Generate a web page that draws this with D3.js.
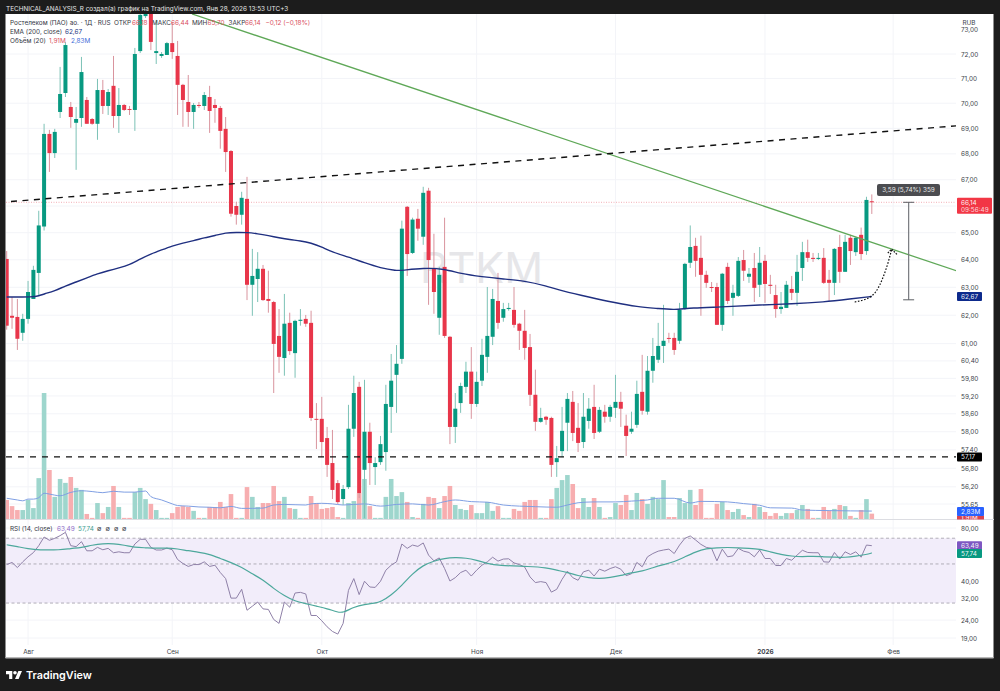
<!DOCTYPE html>
<html>
<head>
<meta charset="utf-8">
<script src="https://cdn.jsdelivr.net/npm/d3@7"></script>
<style>
  html, body { margin: 0; background: #1c1c1c; }
  svg { display: block; }
  text { font-family: Inter, "Noto Sans", sans-serif; }
  .axis text { font-size: 6.4px; fill: #3c3f4a; font-family: Inter, "Noto Sans", sans-serif; }
</style>
</head>
<body>
<svg id="chart" width="1000" height="691"></svg>
<script>
// daily bars
let opens = [
64.03,61.98,61.94,61.38,61.87,62.58,63.52,65.23,68.78,68.03,
69.65,70.41,69.85,69.22,69.41,70.13,69.37,69.18,70.53,69.89,
70.70,69.49,69.93,69.77,69.73,72.12,73.58,73.92,72.04,71.92,
71.96,72.45,71.92,70.74,70.05,69.65,69.93,69.89,70.25,69.93,
69.81,68.98,68.11,66.00,65.67,66.27,63.09,63.30,63.67,62.58,
62.47,61.27,60.50,61.73,60.67,61.80,61.87,61.73,58.43,58.43,
57.79,56.97,56.32,55.81,56.19,58.10,59.51,56.75,58.00,56.84,
57.00,57.33,58.83,59.92,60.47,65.97,64.25,65.52,64.85,66.58,
63.70,61.91,63.74,61.24,58.16,58.96,59.51,60.03,58.93,59.72,
60.54,61.24,62.51,61.91,62.22,62.19,61.70,61.45,60.88,59.24,
58.33,58.50,58.46,57.00,57.36,58.30,59.00,58.13,57.66,58.36,
58.83,58.00,58.67,58.50,58.80,59.00,58.20,58.00,58.23,59.34,
58.67,60.06,60.44,60.92,61.20,61.20,61.10,62.22,63.89,64.51,
64.07,63.45,63.01,63.01,61.66,63.74,62.62,62.69,63.99,63.38,
63.70,63.09,63.96,63.09,62.72,62.22,62.26,62.94,62.80,63.70,
64.28,64.07,64.03,64.07,63.27,63.16,64.47,63.56,64.81,64.28,
64.92,64.32,66.18];
let highs = [
64.32,62.65,62.58,62.05,63.23,63.78,65.82,69.18,68.94,68.98,
71.47,72.50,70.05,69.85,71.88,70.25,69.41,70.98,70.94,70.57,
71.92,70.61,69.97,69.89,72.25,73.72,74.09,74.09,73.42,72.08,
72.50,73.33,72.54,70.78,71.14,70.01,70.05,70.45,70.70,70.17,
69.89,69.45,68.15,66.16,66.54,67.11,64.40,64.28,63.81,63.60,
62.51,62.22,62.76,62.09,61.84,62.22,62.01,62.16,58.96,59.17,
58.16,58.06,56.42,56.26,58.90,59.89,59.68,59.75,58.30,57.16,
57.86,59.58,60.64,60.95,65.45,66.00,65.56,65.89,66.73,66.69,
64.96,63.74,65.56,61.27,59.30,59.65,60.37,60.88,60.03,61.17,
63.01,62.94,63.52,62.44,62.44,63.01,61.73,62.19,61.34,60.10,
58.80,58.53,58.50,57.53,58.83,59.30,59.37,58.96,59.30,59.13,
59.58,58.83,58.90,58.90,59.92,59.34,58.57,58.67,59.72,60.61,
60.57,61.20,61.73,62.37,61.38,61.38,62.44,63.89,65.27,64.81,
64.89,63.60,63.19,63.16,63.52,63.89,63.09,64.10,64.36,63.70,
64.25,64.47,64.18,63.45,63.09,62.83,63.23,63.41,64.18,64.66,
64.74,64.25,64.25,64.43,63.63,64.43,64.92,64.92,64.92,64.85,
65.19,66.35,66.44];
let lows = [
61.49,61.52,60.78,61.10,61.70,62.58,62.72,65.08,67.30,67.84,
69.41,70.25,69.02,67.38,69.06,69.18,69.14,68.55,69.57,69.53,
69.02,68.82,69.69,69.53,68.90,72.04,73.50,72.16,71.59,71.84,
71.96,71.80,69.53,69.06,69.06,68.98,69.81,69.73,68.82,69.22,
68.20,67.30,65.60,65.30,65.30,62.54,61.98,62.47,62.51,62.09,
59.30,59.99,59.89,60.61,59.82,61.63,61.59,58.36,57.43,57.16,
56.52,55.81,55.65,55.62,56.13,57.83,55.84,55.20,56.26,56.26,
56.91,56.72,57.96,58.63,60.30,63.41,64.21,64.70,64.55,62.37,
62.05,61.31,61.20,57.59,57.63,58.63,59.30,58.43,58.83,59.54,
59.99,60.95,61.52,61.77,62.16,61.56,60.78,60.44,58.86,58.03,
58.30,58.23,56.52,56.52,57.16,57.36,57.69,57.33,57.46,58.10,
57.76,57.96,58.30,58.33,58.46,58.16,57.20,57.93,58.13,58.57,
58.57,59.65,60.33,60.33,61.03,60.61,60.99,62.19,63.70,63.38,
61.98,62.98,62.83,61.66,61.45,62.40,61.98,62.65,63.23,63.16,
62.47,62.65,62.44,62.76,61.91,62.05,62.26,62.54,62.33,63.23,
63.92,63.92,63.99,63.12,62.51,62.72,63.16,63.56,63.81,64.14,
63.99,64.18,65.70];
let closes = [
61.63,61.91,61.17,61.87,62.83,63.63,65.27,68.78,68.03,68.86,
70.37,72.37,69.45,69.37,71.26,69.18,69.18,70.53,69.89,70.45,
69.49,69.93,69.73,69.73,72.00,73.63,73.92,72.50,72.12,72.00,
72.45,72.08,70.74,70.13,69.65,69.93,69.89,70.33,69.69,69.81,
68.90,68.07,65.71,65.67,66.31,63.09,63.41,63.67,62.54,62.51,
60.99,60.54,61.70,60.74,61.80,61.84,61.70,58.46,58.40,57.66,
56.91,56.10,55.71,56.13,58.10,59.30,56.00,58.00,56.97,56.97,
57.59,58.93,59.72,60.30,65.15,64.21,65.49,65.15,66.50,63.99,
62.83,63.45,61.27,58.16,58.77,59.54,60.03,58.93,59.68,60.61,
61.27,62.58,61.73,62.22,62.26,61.66,61.45,60.85,59.24,58.33,
58.46,58.40,56.91,57.13,58.03,59.10,57.96,57.63,58.50,58.77,
57.96,58.73,58.50,58.83,59.00,58.77,57.86,58.10,59.27,58.70,
60.06,60.57,60.92,61.10,61.17,60.78,62.19,63.85,64.47,63.96,
63.45,63.16,62.98,61.66,63.49,62.51,62.80,63.96,63.60,63.49,
62.98,63.89,63.12,63.05,62.22,62.30,63.09,62.80,63.56,64.28,
64.07,64.03,64.07,63.16,63.16,64.40,63.56,64.66,64.32,64.81,
64.21,66.23,66.14];
// volume in millions
let volumes = [
6.8,4.6,3.2,3.2,6.8,3.9,14.6,45,17.5,7.9,
14.3,12.9,15,11.1,10.4,1.8,.4,5.7,2.1,4.3,
11.8,4.3,.4,.4,9.6,11.1,7.1,5.4,3.2,.4,
.4,2.1,4.3,4.6,4.3,2.9,.4,.4,4.3,4.3,
6.1,4.3,8.9,.4,.4,11.4,7.9,4.3,5.7,5.7,
11.8,6.4,7.9,3.9,3.6,.4,.4,8.2,5.7,3.6,
3.9,4.3,.7,.4,5.7,6.4,9.3,14.3,4.6,.4,
.4,7.9,14.3,8.2,9.6,6.1,.7,.4,5.4,7.9,
7.5,3.9,8.2,11.8,5,3.6,3.2,5,2.1,2.1,
6.1,2.9,4.6,.4,.4,3.6,2.9,6.1,6.8,6.8,
.4,.4,7.1,11.1,13.9,15.7,12.5,3.9,7.5,4.3,
7.5,4.3,.4,.7,5.7,5,8.6,3.2,9.3,7.1,
5.4,7.9,7.1,13.9,.7,.7,7.5,5.7,10.4,5,
10.7,.4,.4,5.4,6.1,3.2,2.5,3.6,1.4,.7,
5.4,4.3,2.5,1.1,2.1,1.1,2.1,2.1,3.2,5,
3.6,.4,.4,4.3,2.9,3.6,5,4.6,1.1,.4,
3.2,7.1,1.91];
let volMaBars = [0,2,3,4,5,6,7,8,10,12,14,16,18,20,22,24,26,27,29,31,32,34,36,38,40,42,44,46,48,50,52,54,56,57,59,61,63,67,70,73,76,79,82,84,87,90,93,96,99,103,105,107,110,114,117,120,122,125,128,130,135,138,141,143,147,149,154,158,162];
let volMa = [7.4,6.8,6.5,7.1,7.1,7.6,9.2,8.9,8.3,9.5,10.1,9.8,9.4,9.9,9.6,9.6,10,8,6.8,5.4,4.8,4.6,4.3,4.2,4,4.5,3.8,3.8,3.9,5,5.2,5.1,5,5.4,5.6,5.4,5,5.4,4.6,5.2,5.4,5,6.2,6.8,6.2,6,5,4.6,4.4,4.2,5,5.8,6.1,6.1,6.4,6.8,7.4,7.4,5.7,6.3,6.1,5.5,4.9,4,3.9,3.2,3,2.9,2.83];
let emaBars = [0,5,6,7,9,11,13,15,17,19,21,23,25,27,29,31,33,35,37,39,41,43,45,47,49,51,53,55,57,59,61,64,67,70,73,74,78,82,85,89,93,97,101,104,109,114,118,122,125,128,135,141,147,153,158,162];
let ema = [62.65,62.65,62.69,62.76,62.87,63.05,63.19,63.34,63.49,63.60,63.70,63.81,64.03,64.21,64.36,64.51,64.62,64.70,64.81,64.89,65.00,65.01,65.01,64.96,64.89,64.81,64.74,64.70,64.62,64.47,64.28,64.10,63.89,63.70,63.60,63.61,63.70,63.67,63.49,63.38,63.30,63.23,63.05,62.87,62.65,62.44,62.30,62.24,62.19,62.26,62.30,62.37,62.40,62.47,62.58,62.67];
let rsi = [
49.6,51.0,47.7,51.4,54.9,58.0,63.5,71.1,68.1,69.9,
72.4,75.6,63.5,62.7,66.9,59.4,59.4,62.1,60.2,61.3,
57.9,58.6,57.9,57.9,64.9,69.0,69.0,62.1,60.0,60.0,
61.5,60.2,53.0,50.3,48.4,49.6,49.6,51.4,48.4,49.2,
44.7,41.3,32.0,32.0,35.9,27.3,28.8,30.4,27.8,27.6,
24.2,23.0,30.4,28.4,34.2,34.5,33.8,25.5,25.5,23.8,
22.0,20.7,20.0,23.0,35.4,41.3,33.5,39.9,37.0,36.8,
39.9,46.1,49.2,51.4,64.9,61.3,64.0,62.9,65.8,56.1,
52.1,54.1,47.1,40.0,41.8,44.7,46.1,42.7,46.1,49.2,
51.4,54.6,51.9,53.3,53.5,50.7,49.6,48.0,42.2,39.2,
39.7,39.2,34.6,35.9,40.9,45.5,41.8,40.4,45.1,46.1,
42.7,46.7,45.5,47.1,48.2,46.7,42.9,44.0,51.0,48.2,
54.9,57.3,59.1,60.0,60.7,57.3,64.0,69.9,72.1,68.4,
64.6,62.1,61.3,52.1,60.7,54.9,55.6,61.3,59.1,58.1,
54.9,60.0,53.7,53.7,49.0,49.0,53.7,52.5,56.1,59.8,
58.1,57.9,57.9,51.4,51.2,58.1,53.3,58.6,56.6,58.6,
54.6,64.0,63.49];
let rsiMaBars = [0,2,4,6,10,12,14,16,18,20,22,24,26,28,30,32,34,36,38,40,42,44,46,48,50,52,54,56,58,60,62,63,65,67,69,70,72,74,76,78,80,82,84,86,88,90,92,98,101,103,105,107,109,111,113,115,117,119,121,123,125,127,129,131,133,135,137,139,141,143,145,147,149,151,153,155,157,159,161,162];
let rsiMa = [64.3,62.7,61,60,60,61.3,61.8,64,65.2,65.2,64,62.1,61.8,61.3,61.8,60.9,59.4,58.3,56.8,53.7,51,47.9,43.9,40.7,36.2,33,30.7,29.8,28.8,27.9,26.6,26.4,28.5,29.5,30,30.4,33.2,37.8,44.1,49.2,52,53.9,54.4,54.1,52.5,50.3,49,48.4,47.7,46.1,44.7,42.9,41.7,41.3,41.9,42.9,44.7,45.4,47.7,49.6,51.4,54.9,58.6,61.3,61.8,62.1,61.8,61.3,60.7,58.6,56.6,55.3,55,55.3,54.9,54.6,54.4,55.3,56.6,57.74];

let priceTicks = [73,72,71,70,69,68,67,65,64,63,62,61,60.4,59.8,59.2,58.6,58,57.4,56.8,56.2,55.65];
let rsiTicks = [80,40,32,24,19];
let rsiBands = [70,50,30];
let timeBars = [4,31,59,88,114,142,166];
let timeLabels = ["Авг","Сен","Окт","Ноя","Дек","2026","Фев"];

// drawings on the chart: bar number and price
let downTrendBars = [34.7,177.8], downTrendPrices = [73.67,63.60];
let upperDashBars = [0.8,177.8], upperDashPrices = [66.17,69.10];
let supportPrice = 57.17;
let lastPrice = 66.14, emaLast = 62.67, volMaLast = 2.83, volLast = 1.91;
let rsiLast = 63.49, rsiMaLast = 57.74;
let arrowBars = [158.8,161.7,163.5,164.8,165.7], arrowPrices = [62.47,62.65,63.09,63.74,64.36];
let arrowHeadBars = [165,165.7,166.8], arrowHeadPrices = [64.25,64.39,64.18];
let rulerBar = 168.9, rulerPrices = [66.14,62.55];

let upColor = "#089981", downColor = "#e8364a";
let plotL = 6, plotR = 956, plotT = 14, axisX = 961;
let fontSize = 6.4;

let svg = d3.select("#chart");
let defs = svg.append("defs");
defs.append("clipPath").attr("id","mainClip").append("rect")
    .attr("x",plotL).attr("y",plotT).attr("width",plotR-plotL).attr("height",520-plotT);
defs.append("clipPath").attr("id","rsiClip").append("rect")
    .attr("x",plotL).attr("y",520).attr("width",plotR-plotL).attr("height",125);
defs.append("clipPath").attr("id","volTagClip").append("rect")
    .attr("x",957).attr("y",515.5).attr("width",27).attr("height",4);

let x = d3.scaleLinear().domain([0,162]).range([6.7,871.8]);
let y = d3.scaleLog().domain([55.65,72]).range([504,54]);
let yVol = d3.scaleLinear().domain([0,45]).range([519,393]);
let yRsi = d3.scaleLog().domain([19,80]).range([638,528]);

let bars = d3.range(closes.length);
let isUp = i => closes[i] >= opens[i];
let comma = d => d3.format(".2f")(d).replace(".",",");

// white panel
svg.append("rect").attr("x",plotL-0.5).attr("y",plotT).attr("width",994-plotL).attr("height",658-plotT).attr("fill","#fff");
svg.append("rect").attr("x",plotL-0.5).attr("y",657).attr("width",994-plotL).attr("height",1.5).attr("fill","#b8b8b8");

// grid
let gridColor = "#f3f4f8";
let grid = svg.append("g").attr("stroke",gridColor).attr("stroke-width",1);
grid.selectAll(".h").data(priceTicks.concat([66]).filter(d => d < 73)).enter().append("line")
    .attr("x1",plotL).attr("x2",plotR).attr("y1",d => y(d)).attr("y2",d => y(d));
grid.selectAll(".r").data(rsiTicks).enter().append("line")
    .attr("x1",plotL).attr("x2",plotR).attr("y1",d => yRsi(d)).attr("y2",d => yRsi(d));
grid.selectAll(".v").data(timeBars).enter().append("line")
    .attr("y1",plotT).attr("y2",645).attr("x1",d => x(d)).attr("x2",d => x(d));

// watermark
svg.append("text").attr("x",481.5).attr("y",283).attr("text-anchor","middle")
    .attr("font-size",43).attr("fill","#e6e6e9").text("RTKM");

let main = svg.append("g").attr("clip-path","url(#mainClip)");

// volume
main.selectAll(".vol").data(bars).enter().append("rect")
    .attr("x",i => x(i)-2.3).attr("width",4.6)
    .attr("y",i => yVol(volumes[i])).attr("height",i => yVol(0)-yVol(volumes[i]))
    .attr("fill",i => isUp(i) ? "#9ed6cd" : "#f7aeb0");
let volLine = d3.line().x(d => x(d[0])).y(d => yVol(d[1])).curve(d3.curveMonotoneX);
main.append("path").datum(d3.zip(volMaBars,volMa)).attr("d",volLine)
    .attr("fill","none").attr("stroke","#7f9fe3").attr("stroke-width",1);

// current price
main.append("line").attr("x1",plotL).attr("x2",plotR).attr("y1",y(lastPrice)).attr("y2",y(lastPrice))
    .attr("stroke","#ef9aa3").attr("stroke-width",0.8).attr("stroke-dasharray","1 1.5");

// candles
main.selectAll(".wick").data(bars).enter().append("line")
    .attr("x1",i => x(i)).attr("x2",i => x(i))
    .attr("y1",i => y(highs[i])).attr("y2",i => y(lows[i]))
    .attr("stroke",i => isUp(i) ? "#7cc2b6" : "#d9949e").attr("stroke-width",1);
main.selectAll(".body").data(bars).enter().append("rect")
    .attr("x",i => x(i)-2).attr("width",4)
    .attr("y",i => Math.min(y(opens[i]),y(closes[i])))
    .attr("height",i => Math.max(1,Math.abs(y(opens[i])-y(closes[i]))))
    .attr("fill",i => isUp(i) ? upColor : downColor);

// ema
let emaLine = d3.line().x(d => x(d[0])).y(d => y(d[1])).curve(d3.curveBasis);
main.append("path").datum(d3.zip(emaBars,ema)).attr("d",emaLine)
    .attr("fill","none").attr("stroke","#1f2f80").attr("stroke-width",1.4);

// trend lines
let straight = d3.line().x(d => x(d[0])).y(d => y(d[1]));
main.append("path").datum(d3.zip(downTrendBars,downTrendPrices)).attr("d",straight)
    .attr("fill","none").attr("stroke","#5fa858").attr("stroke-width",1.3);
main.append("path").datum(d3.zip(upperDashBars,upperDashPrices)).attr("d",straight)
    .attr("fill","none").attr("stroke","#111").attr("stroke-width",1.4).attr("stroke-dasharray","6 5.5");
main.append("line").attr("x1",plotL).attr("x2",plotR).attr("y1",y(supportPrice)).attr("y2",y(supportPrice))
    .attr("stroke","#111").attr("stroke-width",1.4).attr("stroke-dasharray","6 6");

// dotted arrow
main.append("path").datum(d3.zip(arrowBars,arrowPrices))
    .attr("d",d3.line().x(d => x(d[0])).y(d => y(d[1])).curve(d3.curveNatural))
    .attr("fill","none").attr("stroke","#111").attr("stroke-width",1.2).attr("stroke-dasharray","1.6 1.6");
main.append("path").datum(d3.zip(arrowHeadBars,arrowHeadPrices)).attr("d",straight)
    .attr("fill","none").attr("stroke","#111").attr("stroke-width",1.2).attr("stroke-dasharray","1.6 1.2");

// price range ruler
main.append("line").attr("x1",x(rulerBar)).attr("x2",x(rulerBar))
    .attr("y1",y(rulerPrices[0])).attr("y2",y(rulerPrices[1])).attr("stroke","#77797e").attr("stroke-width",1.2);
main.selectAll(".cap").data(rulerPrices).enter().append("line")
    .attr("x1",x(rulerBar)-5.5).attr("x2",x(rulerBar)+5.5)
    .attr("y1",d => y(d)).attr("y2",d => y(d)).attr("stroke","#5c5e63").attr("stroke-width",1);
svg.append("rect").attr("x",877).attr("y",184).attr("width",63).attr("height",12).attr("rx",2).attr("fill","#4b4c50");
svg.append("text").attr("x",908.5).attr("y",192.3).attr("text-anchor","middle").attr("font-size",fontSize).attr("fill","#e8e8e8").text("3,59 (5,74%) 359");

// separator between panes
svg.append("line").attr("x1",plotL).attr("x2",994).attr("y1",519.5).attr("y2",519.5).attr("stroke","#dcdde2").attr("stroke-width",1);

// rsi pane
let rsiG = svg.append("g").attr("clip-path","url(#rsiClip)");
rsiG.append("rect").attr("x",plotL).attr("width",plotR-plotL)
    .attr("y",yRsi(rsiBands[0])).attr("height",yRsi(rsiBands[2])-yRsi(rsiBands[0])).attr("fill","#f2edfa");
rsiG.selectAll(".band").data(rsiBands).enter().append("line")
    .attr("x1",plotL).attr("x2",plotR).attr("y1",d => yRsi(d)).attr("y2",d => yRsi(d))
    .attr("stroke","#a9a6b0").attr("stroke-width",0.9).attr("stroke-dasharray","3 2.5");
rsiG.append("path").datum(bars)
    .attr("d",d3.line().x(i => x(i)).y(i => yRsi(rsi[i])))
    .attr("fill","none").attr("stroke","#8f81a8").attr("stroke-width",1);
rsiG.append("path").datum(d3.zip(rsiMaBars,rsiMa))
    .attr("d",d3.line().x(d => x(d[0])).y(d => yRsi(d[1])).curve(d3.curveBasis))
    .attr("fill","none").attr("stroke","#4da89c").attr("stroke-width",1.2);

// axes
let priceAxis = svg.append("g").attr("class","axis").attr("transform",`translate(${axisX},0)`)
    .call(d3.axisRight(y).tickValues(priceTicks).tickSize(0).tickPadding(0).tickFormat(comma));
let rsiAxis = svg.append("g").attr("class","axis").attr("transform",`translate(${axisX},0)`)
    .call(d3.axisRight(yRsi).tickValues(rsiTicks).tickSize(0).tickPadding(0).tickFormat(comma));
let timeAxis = svg.append("g").attr("class","axis").attr("transform","translate(0,649)")
    .call(d3.axisBottom(x).tickValues(timeBars).tickSize(0).tickPadding(0)
        .tickFormat(d => timeLabels[timeBars.indexOf(d)]));
timeAxis.selectAll("text").attr("font-weight",d => d === 142 ? 700 : 400);
[priceAxis,rsiAxis,timeAxis].forEach(a => a.select(".domain").remove());
svg.append("text").attr("x",969).attr("y",25).attr("text-anchor","middle").attr("font-size",fontSize).attr("fill","#3c3f4a").text("RUB");

// tags on the price scale
function tag(top,height,width,fill,lines){
    svg.append("rect").attr("x",957).attr("y",top).attr("width",width).attr("height",height).attr("rx",1).attr("fill",fill);
    lines.forEach((s,k) => {
        svg.append("text").attr("x",961).attr("y",top+6.8+k*7.3)
            .attr("font-size",fontSize).attr("fill","#fff").attr("fill-opacity",k ? .8 : .95).text(s);
    });
}
tag(y(lastPrice)-4.5,16,35,"#f23645",[comma(lastPrice),"09:56:49"]);
tag(y(emaLast)-4.5,9,25,"#0d2a8c",[comma(emaLast)]);
tag(y(supportPrice)-4.5,9,25,"#000",[comma(supportPrice)]);
svg.append("rect").attr("x",957).attr("y",515.5).attr("width",27).attr("height",4).attr("fill","#d8434f");
svg.append("text").attr("x",961).attr("y",520).attr("clip-path","url(#volTagClip)")
    .attr("font-size",fontSize).attr("fill","#fff").text(comma(volLast)+"M");
tag(yVol(volMaLast)-4,9,27,"#2962ff",[comma(volMaLast)+"M"]);
tag(yRsi(rsiLast)-4.5,9,25,"#7e57c2",[comma(rsiLast)]);
tag(yRsi(rsiMaLast)-4,9,25,upColor,[comma(rsiMaLast)]);

// header on the dark frame
svg.append("text").attr("x",6).attr("y",10.5).attr("font-size",fontSize).attr("fill","#e6e6e6")
    .text("TECHNICAL_ANALYSIS_R создал(а) график на TradingView.com, Янв 28, 2026 13:53 UTC+3");

// legends
function legend(row,parts){
    parts.forEach(p => {
        svg.append("text").attr("x",p[0]).attr("y",row).attr("font-size",fontSize).attr("fill",p[2]).text(p[1]);
    });
}
let ink = "#33363f", red = "#d9505e", teal = "#3f9f91", purple = "#8f6dc8", navy = "#24347f", blue = "#3f6fd8";
legend(25,[[10,"Ростелеком (ПАО) ао. · 1Д · RUS",ink],[114,"ОТКР",ink],[132,comma(opens[162]),red],
    [152,"МАКС",ink],[171,comma(highs[162]),red],[192,"МИН",ink],[207.5,comma(lows[162]),red],
    [228.5,"ЗАКР",ink],[245,comma(closes[162]),red],[265.5,"−0,12 (−0,18%)",red]]);
legend(34,[[10,"EMA (200, close)",ink],[65,comma(emaLast),navy]]);
legend(43.3,[[10,"Объём (20)",ink],[49,comma(volLast)+"M",red],[71,comma(volMaLast)+"M",blue]]);
legend(530.6,[[10,"RSI (14, close)",ink],[57,comma(rsiLast),purple],[78,comma(rsiMaLast),teal],
    [97,"∅",ink],[105.5,"∅",ink],[114,"∅",ink],[122,"∅",ink]]);

// tradingview logo
let logo = svg.append("g").attr("transform","translate(6,669.2) scale(.45)").attr("fill","#fff");
logo.append("path").attr("d","M14 22H7V11H0V4h14v18zM28 22h-8l7.5-18h8L28 22z");
logo.append("circle").attr("cx",20).attr("cy",8).attr("r",4);
svg.append("text").attr("x",26).attr("y",679).attr("font-size",10.8).attr("font-weight",600).attr("fill","#fff").text("TradingView");
</script>
</body>
</html>
